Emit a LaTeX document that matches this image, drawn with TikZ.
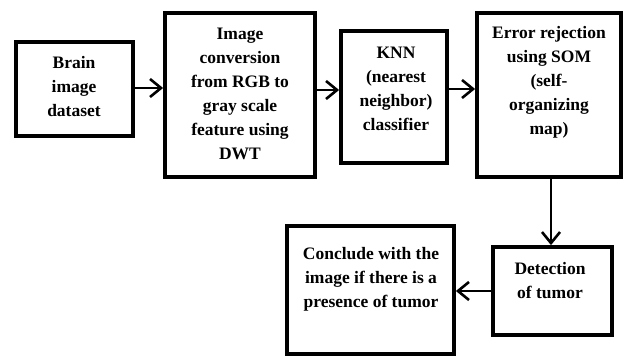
\documentclass[tikz,border=0pt]{standalone}
\usepackage{fontspec}
\setmainfont{Liberation Serif}
\usetikzlibrary{arrows.meta}
\begin{document}
\begin{tikzpicture}[x=1pt,y=-1pt,
  blk/.style={draw=black,line width=3.8pt,rectangle,inner sep=0pt},
  txt/.style={align=center,font=\fontsize{17.5}{24}\selectfont\bfseries,inner sep=0pt,text=black},
  flow/.style={line width=2.6pt,-{Straight Barb[length=11pt,width=18pt,line width=2.6pt]}}]
\useasboundingbox (0,0) rectangle (624,356);
% boxes
\node[blk,minimum width=117pt,minimum height=94pt] (b1) at (74.5,89) {};
\node[blk,minimum width=150pt,minimum height=164pt] (b2) at (240,95) {};
\node[blk,minimum width=106pt,minimum height=132pt] (b3) at (394,97) {};
\node[blk,minimum width=144pt,minimum height=164pt] (b4) at (549,95) {};
\node[blk,minimum width=119pt,minimum height=88pt] (b6) at (552.5,291) {};
\node[blk,minimum width=167pt,minimum height=128pt] (b5) at (370.5,290) {};
% labels
\node[txt] (t1) at (74,87) {Brain\\image\\dataset};
\node[txt] (t2) at (240,94) {Image\\conversion\\from RGB to\\gray scale\\feature using\\DWT};
\node[txt] (t3) at (396,89) {KNN\\(nearest\\neighbor)\\classifier};
\node[txt] (t4) at (549,82) {Error rejection\\using SOM\\(self-\\organizing\\map)};
\node[txt] (t6) at (550,281) {Detection\\of tumor};
\node[txt] (t5) at (371,279) {Conclude with the\\image if there is a\\presence of tumor};
% connectors
\draw[flow] (b1.east |- 0,88) -- (b2.west |- 0,88);
\draw[flow] (b2.east |- 0,90) -- (b3.west |- 0,90);
\draw[flow] (b3.east |- 0,89) -- (b4.west |- 0,89);
\draw[flow] (b4.south -| 551,0) -- (b6.north -| 551,0);
\draw[flow] (b6.west |- 0,291) -- (b5.east |- 0,291);
\end{tikzpicture}
\end{document}
